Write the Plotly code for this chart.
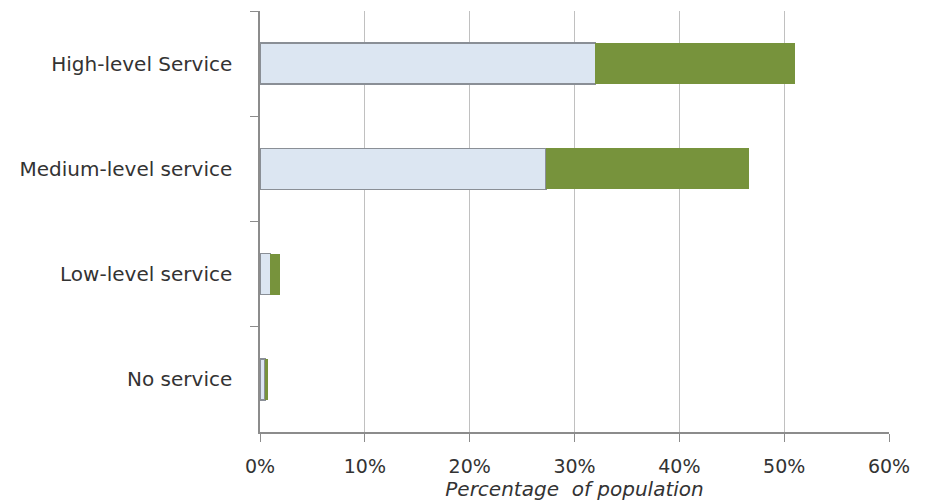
import plotly.graph_objects as go

categories = ["High-level Service", "Medium-level service", "Low-level service", "No service"]
base_values = [32.0, 27.3, 1.0, 0.5]
extra_values = [19.0, 19.3, 0.9, 0.25]
tick_vals = [0, 10, 20, 30, 40, 50, 60]
tick_text = ["0%", "10%", "20%", "30%", "40%", "50%", "60%"]

fig = go.Figure()
fig.add_trace(go.Bar(
    y=categories, x=base_values, orientation="h",
    marker=dict(color="#dce6f2", line=dict(color="#8a8f96", width=1.5)),
    width=0.39, showlegend=False,
))
fig.add_trace(go.Bar(
    y=categories, x=extra_values, orientation="h",
    marker=dict(color="#77933c", line=dict(color="#77933c", width=0)),
    width=0.39, showlegend=False,
))

font_family = "DejaVu Sans, sans-serif"
txt_color = "#333333"
fig.update_layout(
    barmode="stack",
    width=925, height=502,
    margin=dict(l=260, r=36, t=11, b=70),
    paper_bgcolor="white", plot_bgcolor="white",
    font=dict(family=font_family, size=20, color=txt_color),
    xaxis=dict(
        range=[0, 60], tickvals=tick_vals, ticktext=tick_text,
        showgrid=True, gridcolor="#c0c0c0", gridwidth=1,
        showline=True, linecolor="#8c8c8c", linewidth=1.5,
        ticks="outside", ticklen=8, tickcolor="#8c8c8c",
        ticklabelstandoff=8,
        tickfont=dict(size=19, color=txt_color),
        title=dict(text="<i>Percentage  of population</i>", standoff=0,
                   font=dict(size=20, color=txt_color)),
        zeroline=False, fixedrange=True,
    ),
    yaxis=dict(
        categoryorder="array", categoryarray=categories, autorange="reversed",
        showline=True, linecolor="#8c8c8c", linewidth=1.5,
        ticks="outside", ticklen=8, tickcolor="#8c8c8c", tickson="boundaries",
        ticklabelstandoff=22,
        tickfont=dict(size=20, color=txt_color),
        showgrid=False, zeroline=False, fixedrange=True,
    ),
)

fig.write_html("out.html")
